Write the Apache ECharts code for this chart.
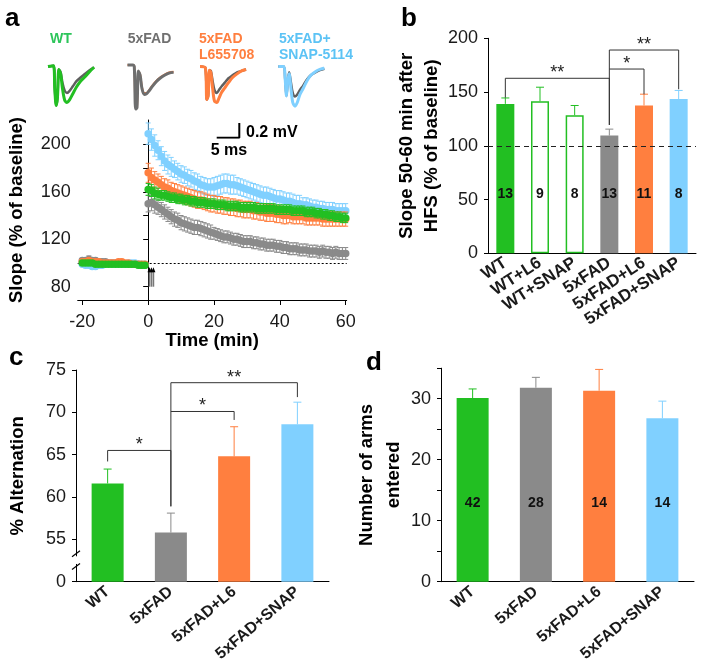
<!DOCTYPE html>
<html><head><meta charset="utf-8">
<script src="https://cdn.jsdelivr.net/npm/echarts@6/dist/echarts.min.js"></script>
<style>html,body{margin:0;padding:0;background:#fff}#c{width:704px;height:672px}</style>
</head><body><div id="c"></div>
<script>
// ---------- DATA ----------
// Panel a: example traces (time in ms, voltage in mV)
const traceTime = [0, 1.2, 1.5, 1.8, 2.1, 2.4, 2.8, 3.2, 3.7, 4.2, 4.8, 5.5, 6.3, 7.2, 8.2, 9.2, 10.2];
const wtTracePost   = [0, 0.01, -0.3, -0.53, -0.42, -0.04, -0.1, -0.3, -0.46, -0.49, -0.45, -0.37, -0.28, -0.2, -0.14, -0.07, -0.01];
const wtTraceBase   = [0, 0.01, -0.3, -0.53, -0.42, -0.04, -0.08, -0.22, -0.33, -0.36, -0.33, -0.27, -0.2, -0.15, -0.1, -0.05, -0.01];
const fadTracePost  = [0.02, 0.02, 0.0, -0.58, -0.56, -0.06, -0.12, -0.3, -0.38, -0.37, -0.33, -0.27, -0.21, -0.16, -0.12, -0.09, -0.08];
const fadTraceBase  = [0.02, 0.02, 0.0, -0.58, -0.56, -0.06, -0.11, -0.28, -0.36, -0.36, -0.32, -0.26, -0.2, -0.15, -0.11, -0.08, -0.07];
const l6TracePost   = [0, -0.02, -0.45, -0.4, -0.05, -0.08, -0.3, -0.47, -0.49, -0.43, -0.35, -0.29, -0.22, -0.15, -0.1, -0.06, -0.04];
const l6TraceBase   = [0, -0.02, -0.45, -0.4, -0.05, -0.06, -0.2, -0.32, -0.36, -0.32, -0.27, -0.22, -0.16, -0.12, -0.08, -0.06, -0.04];
const snapTracePost = [0, 0.0, -0.15, -0.4, -0.2, -0.1, -0.3, -0.49, -0.54, -0.49, -0.38, -0.3, -0.2, -0.12, -0.07, -0.04, -0.02];
const snapTraceBase = [0, 0.0, -0.15, -0.4, -0.2, -0.08, -0.22, -0.36, -0.41, -0.38, -0.32, -0.26, -0.18, -0.12, -0.08, -0.05, -0.03];
const scaleMs = 5, scaleMv = 0.2;

// Panel a: time course, baseline (-20..-1 min) and post-HFS (0..60 min)
const wtBase   = [100,100,100,100,99,99,99,99,99,99,99,99,99,99,99,99,99,98,98,98];
const fadBase  = [102,102,103,102,102,101,101,101,100,100,100,100,99,99,99,99,99,99,98,98];
const l6Base   = [101,101,102,101,101,101,100,100,100,100,100,101,101,100,100,99,99,99,99,99];
const snapBase = [99,98,98,97,97,98,98,99,99,99,99,99,99,99,100,100,100,99,99,99];
const wtBaseErr   = [2,2,2,2,2,2,2,2,2,2,2,2,2,2,2,2,2,2,2,2];
const fadBaseErr  = [2,2,3,2,2,2,2,2,2,2,2,2,2,2,2,2,2,2,2,2];
const l6BaseErr   = [2,2,2,2,2,2,2,2,2,2,2,2,2,2,2,2,2,2,2,2];
const snapBaseErr = [2,2,2,2,2,2,2,2,2,2,2,2,2,2,2,2,2,2,2,2];

const snapPost = [209,204,199,195,190,186,183,181,179,177, 175,174,172,171,169,168,166,165,164,164,
                  164,165,166,167,167,166,166,165,164,163, 162,161,160,159,158,157,157,156,155,154,
                  154,153,152,152,151,150,150,149,149,148, 147,147,146,146,145,145,145,144,144,144, 144];
const l6Post   = [176,172,170,168,166,164,163,161,160,159, 158,157,156,155,154,153,153,152,151,150,
                  150,149,149,148,148,147,147,146,146,145, 145,145,144,144,143,143,142,142,142,141,
                  141,140,140,140,139,139,139,139,138,138, 138,138,138,137,137,137,137,137,137,137, 137];
const wtPost   = [162,161,159,158,157,157,156,155,155,154, 154,153,153,152,152,151,151,151,150,150,
                  150,149,149,149,148,148,148,148,147,147, 147,147,147,146,146,146,146,146,146,145,
                  145,145,145,145,144,144,144,144,143,143, 143,142,142,141,141,140,140,139,139,138, 138];
const fadPost  = [150,151,149,147,145,143,141,139,137,136, 134,133,132,131,130,130,129,128,127,126,
                  125,124,123,122,122,121,120,120,119,118, 118,118,117,117,116,116,115,115,115,114,
                  114,113,113,112,112,112,111,111,111,110, 110,110,109,110,109,109,108,109,108,108, 108];
const snapPostErr = [9,9,9,8,8,8,8,8,7,7, 7,7,7,7,7,7,7,7,7,7, 8,8,8,8,8,8,8,7,7,7,
                     7,7,7,7,7,7,7,7,7,7, 7,7,7,7,7,7,7,6,6,6, 6,6,6,6,6,6,6,6,6,6, 6];
const l6PostErr   = [8,8,7,7,7,7,7,7,7,7, 7,7,7,7,7,7,7,7,7,7, 7,7,7,7,7,7,7,7,7,7,
                     7,7,7,7,7,7,7,7,7,7, 7,7,7,6,6,6,6,6,6,6, 6,6,6,6,6,6,6,6,6,6, 6];
const wtPostErr   = [5,5,5,5,4,4,4,4,4,4, 4,4,4,4,4,4,4,4,4,4, 4,4,4,4,4,4,4,4,4,4,
                     4,4,4,4,4,4,4,4,4,4, 4,4,4,4,4,4,4,4,4,4, 4,4,4,4,4,4,4,4,4,4, 4];
const fadPostErr  = [7,7,7,6,6,6,6,6,6,6, 6,6,6,6,6,6,6,6,6,6, 5,5,5,5,5,5,5,5,5,5,
                     5,5,5,5,5,5,5,5,5,5, 5,5,5,5,5,5,5,5,5,5, 5,5,5,5,5,5,5,5,5,5, 5];
const hfsTimes = [0.4, 1.0, 1.6];
const tcTicks = [80,100,120,140,160,180,200];
const tcLabels = [80,120,160,200];
const timeTicks = [-20,0,20,40,60];

// Panel b
const bCats = ['WT','WT+L6','WT+SNAP','5xFAD','5xFAD+L6','5xFAD+SNAP'];
const bMean = [139,141.5,128.5,109.5,137.5,143.5];
const bSem  = [5.5,13,9,6,10.5,8];
const bN    = [13,9,8,13,11,8];
const bBrackets = [[0,3,162.8,144.7,119.4],[3,4,171.4,171.4,147.9],[3,5,189.1,119.4,152.6]];
const bStars = ['**','*','**'];

// Panel c (axis broken between 0 and 55)
const cCats = ['WT','5xFAD','5xFAD+L6','5xFAD+SNAP'];
const cMean = [61.6,55.8,64.8,68.6];
const cSem  = [1.7,2.3,3.5,2.6];
const cN    = [42,28,14,14];
const cBrackets = [[0,1,65.5,64.2,58.9],[1,2,70.1,70.1,69.1],[1,3,73.5,58.9,71.8]];
const cStars = ['*','*','**'];

// Panel d
const dCats = ['WT','5xFAD','5xFAD+L6','5xFAD+SNAP'];
const dMean = [30.1,31.8,31.3,26.8];
const dSem  = [1.5,1.7,3.5,2.8];
const dN    = [42,28,14,14];

// ---------- STYLE ----------
const GREEN='#22bf22', GRAY='#8a8a8a', ORANGE='#ff7f3f', BLUE='#80d0ff', DARK='#5f5f5f';
const FONT='"Liberation Sans", Arial, sans-serif';
const INK='#1a1a1a';

const chart = echarts.init(document.getElementById('c'), null, {renderer:'canvas'});

// grids
const traceLefts = [48, 127.5, 200, 278.3];
const grids = traceLefts.map(l => ({left:l, top:59.15, width:49.7, height:55.1}));
grids.push({left:216.7, top:123, width:22.6, height:14.7});          // 4 scale bar
grids.push({left:77.7, top:120, width:269, height:180});             // 5 time course
grids.push({left:488, top:38.3, width:208, height:215});             // 6 panel b
const C_LEFT = 76;
grids.push({left:C_LEFT, top:370, width:253, height:211.7});         // 7 panel c
grids.push({left:441, top:368.2, width:253, height:213.5});          // 8 panel d

const hiddenX = (min,max)=>({type:'value', min, max, show:false});
const xAxes = [], yAxes = [];
for (let i=0;i<4;i++){ xAxes.push({gridIndex:i, ...hiddenX(0,11)}); yAxes.push({gridIndex:i, ...hiddenX(-0.65,0.1)}); }
xAxes.push({gridIndex:4, ...hiddenX(0,scaleMs)}); yAxes.push({gridIndex:4, ...hiddenX(0,scaleMv)});

const axLine = {show:true, lineStyle:{color:'#000', width:1}};
const tickLbl = {color:INK, fontSize:18, fontFamily:FONT};
const nameStyle = {color:'#000', fontSize:18.5, fontWeight:'bold', fontFamily:FONT};

xAxes.push({gridIndex:5, type:'value', min:-21.4, max:60.3,
  axisLine:axLine, splitLine:{show:false},
  axisTick:{show:true, length:5, customValues:timeTicks, lineStyle:{color:'#000'}},
  axisLabel:{...tickLbl, margin:13, customValues:timeTicks},
  name:'Time (min)', nameLocation:'middle', nameGap:31, nameTextStyle:nameStyle});
yAxes.push({gridIndex:5, type:'value', min:68.8, max:220.5,
  axisLine:axLine, splitLine:{show:false},
  axisTick:{show:true, length:5, customValues:tcTicks, lineStyle:{color:'#000'}},
  axisLabel:{...tickLbl, margin:7, customValues:tcLabels},
  name:'Slope (% of baseline)', nameLocation:'middle', nameGap:51, nameTextStyle:nameStyle});

const catLabel = (rot,fs)=>({interval:0, rotate:rot, color:INK, fontSize:fs, fontWeight:'bold', fontFamily:FONT, margin:8});
xAxes.push({gridIndex:6, type:'category', data:bCats, axisLine:axLine, axisTick:{show:false}, axisLabel:catLabel(33,17)});
yAxes.push({gridIndex:6, type:'value', min:0, max:200, interval:50, axisLine:axLine, splitLine:{show:false},
  axisTick:{show:true, length:4, lineStyle:{color:'#000'}}, axisLabel:{...tickLbl, margin:10},
  name:'Slope 50-60 min after\nHFS (% of baseline)', nameLocation:'middle', nameGap:44,
  nameTextStyle:{...nameStyle, lineHeight:25}});

xAxes.push({gridIndex:7, type:'category', data:cCats, axisLine:axLine, axisTick:{show:false}, axisLabel:catLabel(40,16)});
const C_MIN = 50;
yAxes.push({gridIndex:7, type:'value', min:C_MIN, max:75, interval:5, axisLine:axLine, splitLine:{show:false},
  axisTick:{show:true, length:4, lineStyle:{color:'#000'}},
  axisLabel:{...tickLbl, margin:10, formatter:v=> v===C_MIN ? '0' : String(v)},
  name:'% Alternation', nameLocation:'middle', nameGap:49, nameTextStyle:nameStyle});

xAxes.push({gridIndex:8, type:'category', data:dCats, axisLine:axLine, axisTick:{show:false}, axisLabel:catLabel(40,16)});
yAxes.push({gridIndex:8, type:'value', min:0, max:35, axisLine:axLine, splitLine:{show:false},
  axisTick:{show:true, length:4, customValues:[0,5,10,15,20,25,30,35], lineStyle:{color:'#000'}},
  axisLabel:{...tickLbl, margin:10, customValues:[0,10,20,30]},
  name:'Number of arms\nentered', nameLocation:'middle', nameGap:34,
  nameTextStyle:{...nameStyle, lineHeight:27}});

const series = [];

// traces
const traceSets = [
  [wtTraceBase, DARK, wtTracePost, GREEN],
  [fadTraceBase, ORANGE, fadTracePost, '#6e6e6e'],
  [l6TraceBase, DARK, l6TracePost, ORANGE],
  [snapTraceBase, DARK, snapTracePost, BLUE]
];
traceSets.forEach((s,i)=>{
  series.push({type:'line', xAxisIndex:i, yAxisIndex:i, data:traceTime.map((t,k)=>[t,s[0][k]]),
    showSymbol:false, smooth:0.3, lineStyle:{color:s[1], width:(i===1?2:2.5)}, z:2});
  series.push({type:'line', xAxisIndex:i, yAxisIndex:i, data:traceTime.map((t,k)=>[t,s[2][k]]),
    showSymbol:false, smooth:0.3, lineStyle:{color:s[3], width:3}, z:3});
});
// scale bar
series.push({type:'line', xAxisIndex:4, yAxisIndex:4, data:[[0,0],[scaleMs,0],[scaleMs,scaleMv]],
  showSymbol:false, lineStyle:{color:'#000', width:2}});

// time course
const minutes = []; for (let t=-20; t<=60; t++) minutes.push(t);
function tcErr(params, api){
  const t=api.value(0), v=api.value(1), e=api.value(2);
  const top=api.coord([t,v+e]), bot=api.coord([t,v-e]);
  const c=api.visual('color');
  const st={stroke:c, lineWidth:1};
  return {type:'group', children:[
    {type:'line', shape:{x1:top[0],y1:top[1],x2:bot[0],y2:bot[1]}, style:st},
    {type:'line', shape:{x1:top[0]-2.5,y1:top[1],x2:top[0]+2.5,y2:top[1]}, style:st},
    {type:'line', shape:{x1:bot[0]-2.5,y1:bot[1],x2:bot[0]+2.5,y2:bot[1]}, style:st}
  ]};
}
const groups = [
  {color:GRAY, base:fadBase, post:fadPost, be:fadBaseErr, pe:fadPostErr},
  {color:BLUE, base:snapBase, post:snapPost, be:snapBaseErr, pe:snapPostErr},
  {color:ORANGE, base:l6Base, post:l6Post, be:l6BaseErr, pe:l6PostErr},
  {color:GREEN, base:wtBase, post:wtPost, be:wtBaseErr, pe:wtPostErr}
];
groups.forEach((g,gi)=>{
  const vals=g.base.concat(g.post), errs=g.be.concat(g.pe);
  const d=minutes.map((t,i)=>[t,vals[i],errs[i]]);
  series.push({type:'custom', xAxisIndex:5, yAxisIndex:5, renderItem:tcErr, data:d,
    itemStyle:{color:g.color}, z:2+gi*2, silent:true});
  series.push({type:'scatter', xAxisIndex:5, yAxisIndex:5, data:d.map(r=>[r[0],r[1]]),
    symbolSize:7.5, itemStyle:{color:g.color, opacity:1}, z:3+gi*2, silent:true});
});
series.push({type:'line', xAxisIndex:5, yAxisIndex:5, data:[], z:20,
  markLine:{silent:true, symbol:['none','none'], label:{show:false},
    lineStyle:{color:'#000', type:[2,2], width:1}, data:[{yAxis:100}]}});
series.push({type:'custom', xAxisIndex:5, yAxisIndex:5, data:hfsTimes.map(t=>[t,80]), z:21,
  renderItem:(p,api)=>{
    const t=api.value(0);
    const b=api.coord([t,80]), h=api.coord([t,96.4]);
    return {type:'group', children:[
      {type:'line', shape:{x1:b[0],y1:b[1],x2:h[0],y2:h[1]+4}, style:{stroke:'#777', lineWidth:1.6}},
      {type:'polygon', shape:{points:[[h[0]-2,h[1]+5],[h[0]+2,h[1]+5],[h[0],h[1]]]}, style:{fill:'#000'}}
    ]};
  }});

// bar helpers
function barErr(params, api){
  const x=api.value(0), v=api.value(1), e=api.value(2);
  const p1=api.coord([x,v]), p2=api.coord([x,v+e]);
  const c=api.visual('color'); const st={stroke:c, lineWidth:1};
  return {type:'group', children:[
    {type:'line', shape:{x1:p1[0],y1:p1[1],x2:p2[0],y2:p2[1]}, style:st},
    {type:'line', shape:{x1:p2[0]-4,y1:p2[1],x2:p2[0]+4,y2:p2[1]}, style:st}
  ]};
}
function makeBracket(stars){
  return (params, api)=>{
    const xl=api.value(0), xr=api.value(1), yt=api.value(2), yl=api.value(3), yr=api.value(4);
    const a=api.coord([xl,yl]), b=api.coord([xl,yt]), c=api.coord([xr,yt]), d=api.coord([xr,yr]);
    return {type:'group', children:[
      {type:'polyline', shape:{points:[a,b,c,d]}, style:{stroke:'#333', lineWidth:1, fill:null}},
      {type:'text', x:(b[0]+c[0])/2, y:b[1]-5, style:{text:stars[params.dataIndex], fill:'#222',
        font:'18px '+FONT, textAlign:'center', textVerticalAlign:'middle'}}
    ]};
  };
}

// panel b
const bColors=[GREEN,GREEN,GREEN,GRAY,ORANGE,BLUE];
const bHollow=[false,true,true,false,false,false];
series.push({type:'bar', xAxisIndex:6, yAxisIndex:6, barWidth:18,
  data:bMean.map((v,i)=>({value:v,
    itemStyle: bHollow[i] ? {color:'#fff', borderColor:bColors[i], borderWidth:1.5} : {color:bColors[i]},
    label:{formatter:String(bN[i])}})),
  label:{show:true, position:'insideBottom', distance:52, color:'#111', fontSize:14, fontWeight:'bold', fontFamily:FONT},
  markLine:{silent:true, symbol:['none','none'], label:{show:false},
    lineStyle:{color:'#222', type:[5,4], width:1}, data:[{yAxis:100}]}, z:2});
series.push({type:'custom', xAxisIndex:6, yAxisIndex:6, renderItem:barErr, z:3,
  data:bMean.map((v,i)=>({value:[i,v,bSem[i]], itemStyle:{color:bColors[i]}}))});
series.push({type:'custom', xAxisIndex:6, yAxisIndex:6, renderItem:makeBracket(bStars), data:bBrackets, z:4});

// panel c
const cColors=[GREEN,GRAY,ORANGE,BLUE];
series.push({type:'bar', xAxisIndex:7, yAxisIndex:7, barWidth:32, clip:true,
  data:cMean.map((v,i)=>({value:v, itemStyle:{color:cColors[i]}})), z:2});
series.push({type:'custom', xAxisIndex:7, yAxisIndex:7, renderItem:barErr, z:3,
  data:cMean.map((v,i)=>({value:[i,v,cSem[i]], itemStyle:{color:cColors[i]}}))});
series.push({type:'scatter', xAxisIndex:7, yAxisIndex:7, symbolSize:1, itemStyle:{opacity:0}, z:4,
  data:cMean.map((v,i)=>({value:[i,(C_MIN+v)/2], label:{formatter:String(cN[i])}})),
  label:{show:true, position:'inside', color:'#111', fontSize:14, fontWeight:'bold', fontFamily:FONT}});
series.push({type:'custom', xAxisIndex:7, yAxisIndex:7, renderItem:makeBracket(cStars), data:cBrackets, z:4});

// panel d
series.push({type:'bar', xAxisIndex:8, yAxisIndex:8, barWidth:32,
  data:dMean.map((v,i)=>({value:v, itemStyle:{color:cColors[i]}, label:{formatter:String(dN[i])}})),
  label:{show:true, position:'insideBottom', distance:72, color:'#111', fontSize:14, fontWeight:'bold', fontFamily:FONT}, z:2});
series.push({type:'custom', xAxisIndex:8, yAxisIndex:8, renderItem:barErr, z:3,
  data:dMean.map((v,i)=>({value:[i,v,dSem[i]], itemStyle:{color:cColors[i]}}))});

const txt=(x,y,text,fill,size,align)=>({type:'text', x, y, z:50,
  style:{text, fill, font:'bold '+size+'px '+FONT, textAlign:align||'left', textVerticalAlign:'middle'}});

const graphic=[
  txt(5,19,'a','#000',26), txt(401,19,'b','#000',26), txt(9,358,'c','#000',26), txt(366,363,'d','#000',26),
  txt(50,39.5,'WT','#2cc55a',14), txt(127.7,39.5,'5xFAD','#707070',14),
  txt(199,39.5,'5xFAD',ORANGE,14), txt(199,55,'L655708',ORANGE,14),
  txt(279,39.5,'5xFAD+','#5cc3f5',14), txt(279,55,'SNAP-5114','#5cc3f5',14),
  txt(246,132.5,'0.2 mV','#000',16), txt(210.7,151,'5 ms','#000',16)
];

chart.setOption({animation:false, backgroundColor:'#fff', grid:grids, xAxis:xAxes, yAxis:yAxes, series, graphic});

// axis break marks on panel c
const yBreak1 = chart.convertToPixel({yAxisIndex:7}, 53.3);
const yBreak2 = chart.convertToPixel({yAxisIndex:7}, 51.8);
const ax = C_LEFT;
graphic.push({type:'rect', z:60, shape:{x:ax-3, y:yBreak1+2.5, width:6, height:yBreak2-yBreak1-5}, style:{fill:'#fff'}});
[yBreak1,yBreak2].forEach(yb=>{
  graphic.push({type:'line', z:61, shape:{x1:ax-4,y1:yb+3,x2:ax+4,y2:yb-3}, style:{stroke:'#000', lineWidth:1.2}});
});
chart.setOption({graphic});
</script></body></html>
